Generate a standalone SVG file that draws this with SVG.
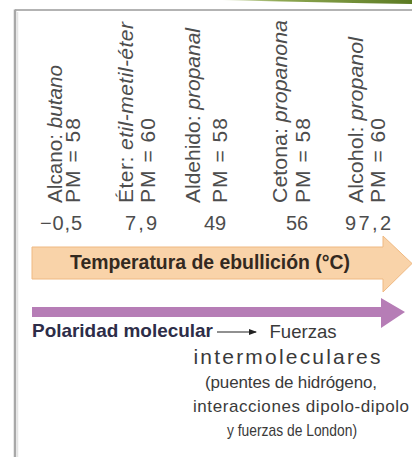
<svg xmlns="http://www.w3.org/2000/svg" width="412" height="457" viewBox="0 0 412 457">
<defs>
<linearGradient id="gr" x1="0" y1="0" x2="1" y2="0">
<stop offset="0" stop-color="#e4ecd0"/>
<stop offset="0.3" stop-color="#8fa853"/>
<stop offset="1" stop-color="#5b7a22"/>
</linearGradient>
<marker id="ah" markerWidth="8" markerHeight="6" refX="7" refY="3" orient="auto" markerUnits="userSpaceOnUse">
<path d="M0,0 L8,3 L0,6 Z" fill="#222"/>
</marker>
<style>
.rot{font-family:"Liberation Sans",Arial,sans-serif;font-size:21px;fill:#4d4d4d}
.val{font-family:"Liberation Sans",Arial,sans-serif;font-size:20px;fill:#4d4d4d;text-anchor:middle}
.bold{font-family:"Liberation Sans",Arial,sans-serif;font-weight:bold}
.reg{font-family:"Liberation Sans",Arial,sans-serif;fill:#3a3a3a;text-anchor:middle}
.start{text-anchor:start}
.it{font-style:italic}
</style>
</defs>
<rect width="412" height="457" fill="#fff"/>
<g id="frame">
<path d="M222,0 L412,0 L412,4 Q320,2.5 222,0 Z" fill="url(#gr)"/>
<line x1="15" y1="10" x2="412" y2="10" stroke="#9a9a9a" stroke-width="1.5"/>
<line x1="15" y1="9.5" x2="15" y2="457" stroke="#a8a8a8" stroke-width="2.5"/>
<line x1="17.5" y1="12" x2="17.5" y2="457" stroke="#e4e4e4" stroke-width="1.5"/>
</g>
<g id="col-alcano">
<text class="rot" transform="translate(62,203) rotate(-90)" textLength="138" lengthAdjust="spacingAndGlyphs">Alcano: <tspan class="it">butano</tspan></text>
<text class="rot" transform="translate(80,203) rotate(-90)" textLength="85">PM = 58</text>
<text class="val" x="61" y="230" textLength="42">−0,5</text>
</g>
<g id="col-eter">
<text class="rot" transform="translate(133,203) rotate(-90)" textLength="181">Éter: <tspan class="it">etil-metil-éter</tspan></text>
<text class="rot" transform="translate(155,203) rotate(-90)" textLength="85">PM = 60</text>
<text class="val" x="141" y="230" textLength="32">7,9</text>
</g>
<g id="col-aldehido">
<text class="rot" transform="translate(200,203) rotate(-90)" textLength="175" lengthAdjust="spacingAndGlyphs">Aldehido: <tspan class="it">propanal</tspan></text>
<text class="rot" transform="translate(227,203) rotate(-90)" textLength="85">PM = 58</text>
<text class="val" x="215" y="230">49</text>
</g>
<g id="col-cetona">
<text class="rot" transform="translate(287,203) rotate(-90)" textLength="183" lengthAdjust="spacingAndGlyphs">Cetona: <tspan class="it">propanona</tspan></text>
<text class="rot" transform="translate(310,203) rotate(-90)" textLength="85">PM = 58</text>
<text class="val" x="297" y="230">56</text>
</g>
<g id="col-alcohol">
<text class="rot" transform="translate(363,203) rotate(-90)" textLength="166" lengthAdjust="spacingAndGlyphs">Alcohol: <tspan class="it">propanol</tspan></text>
<text class="rot" transform="translate(385,203) rotate(-90)" textLength="85">PM = 60</text>
<text class="val" x="368" y="230" textLength="46">97,2</text>
</g>
<g id="arrow-temperatura">
<path d="M32,247 L383,247 L383,236 L412,263.5 L383,292 L383,279 L32,279 Z" fill="#f9d3a9" stroke="#efb982" stroke-width="1"/>
<text class="bold" x="210" y="269" font-size="20" fill="#33291f" text-anchor="middle" textLength="280" lengthAdjust="spacingAndGlyphs">Temperatura de ebullición (°C)</text>
</g>
<g id="arrow-polaridad">
<path d="M32,307 L381,307 L381,298 L405,312 L381,328 L381,317 L32,317 Z" fill="#b67db6"/>
</g>
<g id="connectors">
<line x1="217" y1="332" x2="256" y2="332" stroke="#222" stroke-width="1.2" marker-end="url(#ah)"/>
</g>
<g id="polaridad-text">
<text class="bold" x="32" y="337" font-size="19" fill="#2d2d48" textLength="181" lengthAdjust="spacingAndGlyphs">Polaridad molecular</text>
</g>
<g id="fuerzas-text">
<text class="reg" x="303" y="338" font-size="19" textLength="67" lengthAdjust="spacingAndGlyphs">Fuerzas</text>
<text class="reg" x="287" y="364" font-size="21" textLength="187">intermoleculares</text>
<text class="reg" x="291" y="388" font-size="17" textLength="172">(puentes de hidrógeno,</text>
<text class="reg start" x="193" y="412" font-size="17" textLength="216">interacciones dipolo-dipolo</text>
<text class="reg" x="292" y="436" font-size="17" textLength="130" lengthAdjust="spacingAndGlyphs">y fuerzas de London)</text>
</g>
</svg>
